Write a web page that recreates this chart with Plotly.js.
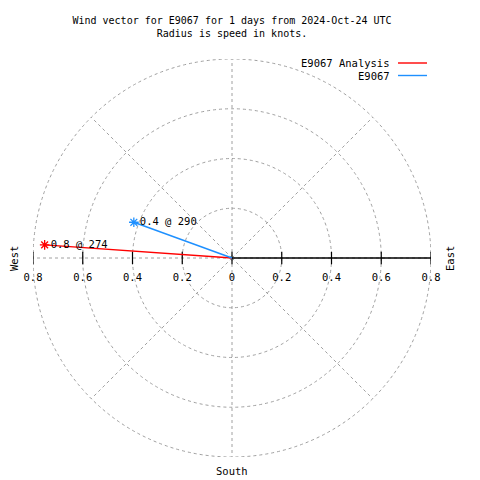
<!DOCTYPE html>
<html>
<head>
<meta charset="utf-8">
<script src="https://cdn.plot.ly/plotly-3.0.1.min.js"></script>
<style>html,body{margin:0;padding:0;background:#fff;}#chart{width:480px;height:480px;}</style>
</head>
<body>
<div id="chart"></div>
<script>
// ---- data ----
const seriesNames = ["E9067 Analysis", "E9067"];
const seriesColors = ["#ff0000", "#1e90ff"];
const speeds = [0.755, 0.42];        // knots (radius)
const directions = [274, 290];      // degrees, clockwise from north
const ringRadii = [0.2, 0.4, 0.6, 0.8];
const spokeAngles = [0, 45, 90, 135, 180, 225, 270, 315];
const tickVals = [-0.8, -0.6, -0.4, -0.2, 0, 0.2, 0.4, 0.6, 0.8];
const tickText = ["0.8", "0.6", "0.4", "0.2", "0", "0.2", "0.4", "0.6", "0.8"];
const titleLines = ["Wind vector for E9067 for 1 days from 2024-Oct-24 UTC", "Radius is speed in knots."];
const compassLabels = ["West", "East", "South"];

const FONT = "DejaVu Sans Mono, Liberation Mono, monospace";
const GRID = "#a0a0a0";
const RMAX = 0.8;

// plot-area geometry in pixels (for placing free text in paper coordinates)
const L = 33, R = 49, T = 59, B = 23, W = 480, H = 480;
const PW = W - L - R, PH = H - T - B;
const px = x => (x - L) / PW;
const py = y => (H - B - y) / PH;

const toXY = (r, d) => [r * Math.sin(d * Math.PI / 180), r * Math.cos(d * Math.PI / 180)];

const shapes = [];
ringRadii.forEach(r => shapes.push({
  type: "circle", xref: "x", yref: "y", x0: -r, x1: r, y0: -r, y1: r,
  line: {color: GRID, width: 1, dash: "3px,3px"}, layer: "below"
}));
spokeAngles.forEach(a => {
  const [x, y] = toXY(RMAX, a);
  shapes.push({type: "line", xref: "x", yref: "y", x0: 0, y0: 0, x1: x, y1: y,
    line: {color: GRID, width: 1, dash: "3px,3px"}, layer: "below"});
});
// solid axis line on the east side
shapes.push({type: "line", xref: "x", yref: "y", x0: 0, y0: 0, x1: RMAX, y1: 0,
  line: {color: "#000", width: 1.3}, layer: "below"});

const traces = [];
// tick marks crossing the axis
traces.push({
  x: tickVals, y: tickVals.map(() => 0), mode: "markers", type: "scatter",
  marker: {symbol: "line-ns-open", size: 9, color: "#000", line: {color: "#000", width: 1.2}},
  hoverinfo: "skip", showlegend: false
});

speeds.forEach((r, i) => {
  const [x, y] = toXY(r, directions[i]);
  traces.push({
    x: [0, x], y: [0, y], mode: "lines", type: "scatter", name: seriesNames[i],
    line: {color: seriesColors[i], width: 1.4}, showlegend: false, hoverinfo: "skip"
  });
  traces.push({
    x: [x], y: [y], mode: "markers+text", type: "scatter",
    marker: {symbol: "asterisk-open", size: 8, color: seriesColors[i], line: {color: seriesColors[i], width: 1.3}},
    text: [r.toFixed(1) + " @ " + directions[i]], textposition: "middle right",
    textfont: {family: FONT, size: 10.5, color: "#000"},
    showlegend: false, hoverinfo: "skip"
  });
});

const annotations = [];
// legend (text then line)
seriesNames.forEach((n, i) => {
  const yy = 63 + 12.5 * i;
  annotations.push({
    xref: "paper", yref: "paper", x: px(392), y: py(yy), xanchor: "right", yanchor: "middle",
    text: n, showarrow: false, font: {family: FONT, size: 10.5, color: "#000"}
  });
  shapes.push({type: "line", xref: "paper", yref: "paper",
    x0: px(398), x1: px(427), y0: py(yy), y1: py(yy),
    line: {color: seriesColors[i], width: 1.4}});
});
// compass labels
annotations.push({xref: "paper", yref: "paper", x: px(14), y: py(259),
  text: compassLabels[0], textangle: -90, showarrow: false, xanchor: "center", yanchor: "middle",
  font: {family: FONT, size: 10.5, color: "#000"}});
annotations.push({xref: "paper", yref: "paper", x: px(450), y: py(259),
  text: compassLabels[1], textangle: -90, showarrow: false, xanchor: "center", yanchor: "middle",
  font: {family: FONT, size: 10.5, color: "#000"}});
annotations.push({xref: "paper", yref: "paper", x: px(232), y: py(471),
  text: compassLabels[2], showarrow: false, xanchor: "center", yanchor: "middle",
  font: {family: FONT, size: 10.5, color: "#000"}});

const layout = {
  width: W, height: H,
  margin: {l: L, r: R, t: T, b: B, pad: 0},
  paper_bgcolor: "#fff", plot_bgcolor: "#fff",
  title: {text: titleLines.join("<br>"), xref: "container", yref: "container",
    x: 232 / 480, y: 1 - 24 / 480, xanchor: "center", yanchor: "top",
    font: {family: FONT, size: 10, color: "#000"}},
  xaxis: {range: [-RMAX, RMAX], anchor: "free", position: 0.5, showgrid: false, zeroline: false,
    showline: false, tickmode: "array", tickvals: tickVals, ticktext: tickText,
    ticks: "outside", ticklen: 9, tickcolor: "rgba(0,0,0,0)",
    tickfont: {family: FONT, size: 10.5, color: "#000"}, fixedrange: true},
  yaxis: {range: [-RMAX, RMAX], visible: false, fixedrange: true},
  shapes: shapes, annotations: annotations, showlegend: false
};

Plotly.newPlot("chart", traces, layout, {displayModeBar: false, staticPlot: true});
</script>
</body>
</html>
